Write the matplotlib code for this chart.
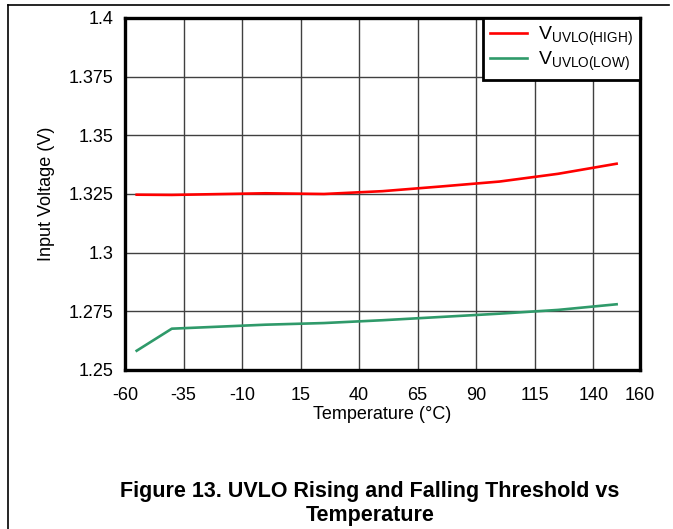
import matplotlib

matplotlib.use("Agg")

import matplotlib.pyplot as plt
from matplotlib.lines import Line2D

plt.rcParams["font.family"] = ["Liberation Sans", "DejaVu Sans"]
plt.rcParams["mathtext.fontset"] = "custom"
plt.rcParams["mathtext.rm"] = "Liberation Sans"
plt.rcParams["axes.unicode_minus"] = False

# measured thresholds vs junction temperature
temperature = [-55, -40, 0, 25, 50, 75, 100, 125, 150]
v_uvlo_high = [1.3247, 1.3246, 1.3253, 1.3250, 1.3262, 1.3282, 1.3303, 1.3336, 1.3379]
v_uvlo_low = [1.2582, 1.2676, 1.2693, 1.2700, 1.2712, 1.2726, 1.2740, 1.2756, 1.2780]

x_ticks = [-60, -35, -10, 15, 40, 65, 90, 115, 140, 160]
y_ticks = [1.25, 1.275, 1.3, 1.325, 1.35, 1.375, 1.4]
y_labels = ["1.25", "1.275", "1.3", "1.325", "1.35", "1.375", "1.4"]

fig = plt.figure(figsize=(6.73, 5.29), dpi=100)
ax = fig.add_axes([0.1857, 0.3006, 0.7653, 0.6654])

ax.plot(temperature, v_uvlo_high, color="#ff0000", linewidth=1.9,
        label=r"V$_{\mathrm{UVLO(HIGH)}}$", zorder=3)
ax.plot(temperature, v_uvlo_low, color="#2f9a6a", linewidth=1.9,
        label=r"V$_{\mathrm{UVLO(LOW)}}$", zorder=3)

ax.set_xlim(-60, 160)
ax.set_ylim(1.25, 1.4)
ax.set_xticks(x_ticks)
ax.set_yticks(y_ticks)
ax.set_yticklabels(y_labels)
ax.tick_params(length=0, labelsize=13, colors="black")
ax.tick_params(axis="x", pad=12)
ax.tick_params(axis="y", pad=8)
ax.grid(True, color="#404040", linewidth=1.0, zorder=1)
for spine in ax.spines.values():
    spine.set_linewidth(2.4)
    spine.set_color("black")
    spine.set_zorder(4)

ax.set_xlabel("Temperature (°C)", fontsize=13, labelpad=2)
ax.set_ylabel("Input Voltage (V)", fontsize=13, labelpad=10)

leg = ax.legend(loc="upper right", bbox_to_anchor=(1, 1), borderaxespad=0,
                fancybox=False, framealpha=1, fontsize=14, handlelength=1.9,
                handletextpad=0.6, labelspacing=0.05, borderpad=0.35)
leg.get_frame().set_edgecolor("black")
leg.get_frame().set_linewidth(2.0)
leg.set_zorder(5)

# page frame lines
fig.add_artist(Line2D([8 / 673, 8 / 673], [0, 1 - 5 / 529],
                      transform=fig.transFigure, color="black", linewidth=1.2))
fig.add_artist(Line2D([8 / 673, 669 / 673], [1 - 5 / 529, 1 - 5 / 529],
                      transform=fig.transFigure, color="black", linewidth=1.2))

fig.text(0.55, 1 - 491 / 529, "Figure 13. UVLO Rising and Falling Threshold vs",
         ha="center", va="center", fontsize=15.5, weight="bold")
fig.text(0.55, 1 - 515 / 529, "Temperature",
         ha="center", va="center", fontsize=15.5, weight="bold")

fig.savefig("out.png", dpi=100)
plt.close(fig)
